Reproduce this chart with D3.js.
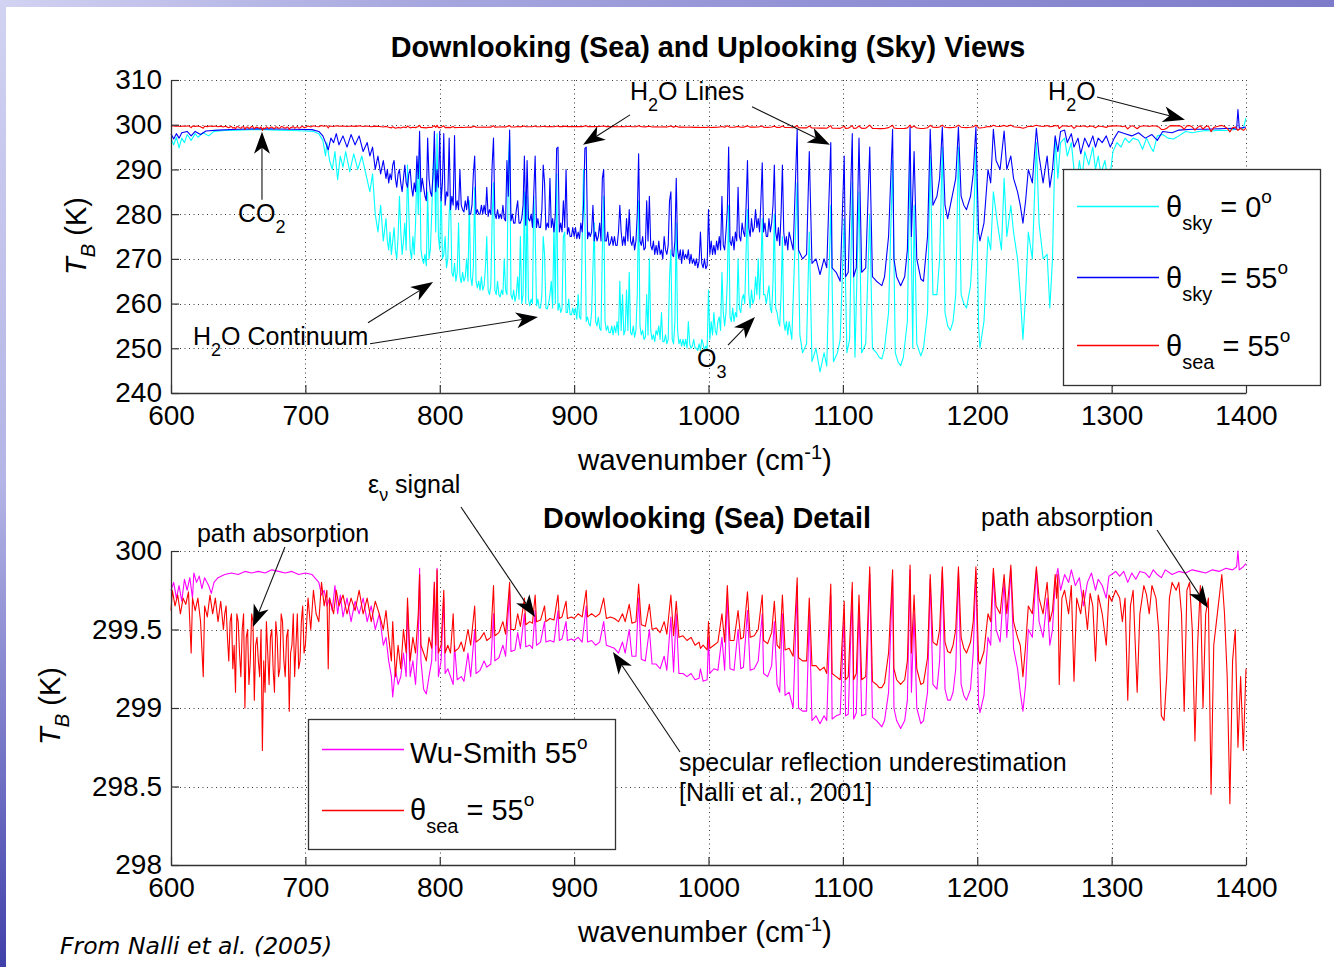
<!DOCTYPE html>
<html><head><meta charset="utf-8">
<script src="https://cdn.jsdelivr.net/npm/d3@7"></script>
<style>
body{margin:0;background:#fff;}
svg{display:block;}
</style>
</head><body>
<svg id="chart" width="1334" height="967"></svg>
<script>
// ---------- tick values ----------
const xTickValues = [600,700,800,900,1000,1100,1200,1300,1400];
const yTopTickValues = [240,250,260,270,280,290,300,310];
const yBotTickValues = [298,298.5,299,299.5,300];

// ---------- series: [wavenumber (cm-1), brightness temperature (K)] ----------
const skyZenith = [
[600,297],[602,295.5],[604,297.2],[606,294.8],[608,297],[610,296],[612,297.8],[615,296.5],[618,298],[620,297.2],[624,298.2],[628,297.5],[632,298.5],[640,298.7],[650,298.8],[660,298.9],[670,298.9],[680,298.8],[690,298.7],[700,298.6],[706,298.5],[710,298],[713,296.5],[715,293],[716,296],[718,292],[720,290],[722,294],[724,287.7],[726,293],[728,290.5],[730,294],[733,289.5],[736,293.5],[739,290],[742,293],[745,289],[748,285],[750,289],[752,280],[754,276],[756,282],[758,274],
[760,279],[761,274],[762,272],[763,276],[764,271],[765,274],[766,277],[767,272],[768,270],[769,275],[770,284],[771,276],[772,271],[773,274],[774,278],[775,272],[776,291],[777,280],[778,272],[779,270],[780,275],[781,271],[782,278],[783,290],[784,280],[785,294],[786,272],[787,270],[788,269],[789,271],[790,268.4],[791,285],[792,270],[793,272],[794,280],[795,289],[796,294],[797,276],[798,298],[799,275],
[800,272],[801,286],[802,270],[803,271],[804,275],[805,268],[806,270],[807,280],[808,284],[809,267],[810,266],[811,269],[812,265],[813,267],[814,278],[815,266],[816,264.7],[817,267],[818,265],[819,266],[820,270],[821,265],[822,283],[823,266],[824,264],[825,268],[826,286],[827,265],[828,263.5],[829,265],[830,263],[831,266],[832,263],[833,264],[834,268],[835,275],[836,263],[837,262],[838,264],[839,279],[840,287],[841,263],[842,262],[843,265],[844,262],[845,261.5],[846,263],[847,262],[848,270],[849,263],[850,262],[851,291],[852,297.4],[853,262],[854,261],[855,263],[856,260.5],[857,262],[858,266],[859,261],[860,275],[861,260],[862,262],[863,285],[864,260],[865,284],[866,261],[867,259.5],[868,261],[869,260],[870,284],[871,276],[872,259.5],[873,261],[874,259],[875,259],[876,262],[877,275],[878,271],[879,259],[880,258.8],[881,260],[882,262],[883,265],[884,259],[885,278],[886,260],[887,289],[888,258.5],[889,260],[890,258],[891,259],[892,275],[893,276],[894,258],[895,258],[896,261],[897,257.5],[898,257.5],[899,259],
[900,257.5],[901,259],[902,256.5],[903,262],[904,257],[905,256.5],[906,274],[907,290],[908,279],[909,256],[910,257],[911,255.5],[912,255],[913,258],[914,268],[915,278],[916,256],[917,255],[918,257],[919,254.5],[920,254],[921,272],[922,284],[923,256],[924,254],[925,255],[926,253.5],[927,253.5],[928,255],[929,253],[930,255],[931,253.5],[932,256],[933,253],[934,265],[935,254],[936,262],[937,253],[938,254],[939,263],[940,254],[941,267],[942,253.5],[943,253],[944,255],[945,252.5],[946,254],[947,262],[948,283],[949,255],[950,253],[951,254],[952,252],[953,252.5],[954,262],[955,253],[956,270],[957,254],[958,252],[959,253],[960,251.5],[961,254],[962,253],[963,255],[964,252],[965,258],[966,251.5],[967,251.5],[968,253],[969,251],[970,252],[971,266],[972,272],[973,252],[974,251],[975,256],[976,278],[977,254],[978,251],[979,252],[980,250.5],[981,252],[982,250.5],[983,252],[984,250],[985,256],[986,251],[987,250],[988,250.5],[989,252],[990,250],[991,250],[992,249.5],[993,251],[994,249.5],[995,252],[996,251],[997,249.5],[998,250.5],[999,250],
[1000,263],[1001,252],[1002,256],[1003,253],[1004,258],[1005,254],[1006,253],[1007,256],[1008,257],[1009,254],[1010,267],[1011,258],[1012,255],[1013,258],[1014,265],[1015,282],[1016,257],[1017,256],[1018,259],[1019,256],[1020,258],[1021,257],[1022,270],[1023,259],[1024,258],[1025,261],[1026,262],[1027,260],[1028,272],[1029,281],[1030,262],[1031,259],[1032,263],[1033,260],[1034,261],[1035,266],[1036,262],[1037,270],[1038,261],[1039,268],[1040,279],[1041,262],[1042,262],[1043,260],[1044,262],[1045,264],[1046,259],[1047,258],[1048,265],[1049,280],[1050,259],[1051,258],[1052,256],[1053,255],[1054,262],[1055,275],[1056,256],[1057,254],[1058,256],[1059,253],[1060,256],
[1062,252],[1066,287],[1068,253],[1070,249],[1073,251],[1075,276],[1077,247],[1080,250],[1083,244.7],[1086,249],[1088,246],[1091,282],[1093,247],[1096,249],[1098,252],[1101,279],[1103,249],[1105,252],[1107,287],[1109,248],[1112,285],[1114,249],[1117,251],[1120,280],[1122,250],[1125,249],[1127,248],[1129,247.6],[1131,250],[1134,258],[1137,292],[1139,249],[1141,247],[1143,246.1],[1145,248],[1148,256],[1150,293],[1152,250],[1153,282],[1155,251],[1158,248.3],[1160,250],[1163,258],[1165,293],[1167,262],[1170,262],[1172,270],[1174,295],[1176,258],[1178,255],[1180,254],[1182,256],[1184,262],[1186,295],[1188,262],[1190,260],[1192,259],[1195,264],[1197,275],[1199,295],[1201,255],[1202,250],[1205,256],[1208,275],[1210,272],[1212,285],[1215,278],[1218,272],[1220,288],[1222,275],[1225,282],[1227,276],[1230,270],[1232,262],[1234,252],[1236,262],[1238,276],[1241,270],[1244,296],[1246,278],[1249,270],[1252,271],[1254,259],[1256,270],[1258,297],[1260,288],[1262,296],[1265,297],[1267,293],[1270,296],[1272,290],[1274,286],[1276,292],[1278,288],[1280,294],[1283,291],[1286,295],[1288,290],[1290,293],[1292,289],[1295,292],[1297,288],[1299,289],[1301,294],[1304,296],[1307,295],[1310,297],[1313,296],[1316,297],[1320,296.5],[1323,294.5],[1326,297],[1329,295],[1331,294],[1334,297.5],[1338,297.8],[1342,297],[1346,296.8],[1350,297.5],[1355,298.5],[1360,298.2],[1365,298.5],[1370,298.7],[1375,298.6],[1380,298.8],[1385,298.7],[1390,298.9],[1395,299],[1398,299.2],[1400,301.5]
];

const sky55 = [
[600,298],[602,296.8],[604,298],[606,297],[608,298.2],[612,298.5],[615,297.5],[618,298.5],[622,297.8],[626,298.6],[635,298.8],[650,299],[670,299.1],[690,299],[705,298.9],[710,298.5],[713,297.5],[715,296],[717,294.4],[719,297],[721,296],[723,298],[725,295.5],[728,297.5],[731,295],[734,297.8],[737,295.5],[740,297.5],[743,294],[746,296],[748,293],[750,295],[752,290],[754,293],[756,289],[758,292],
[760,288],[761,290],[762,287],[763,289],[764,287.7],[765,291],[766,292],[767,288],[768,286],[769,289],[770,290],[771,287],[772,285],[773,288],[774,291],[775,287],[776,286],[777,289],[778,290],[779,286],[780,284],[781,287],[782,285],[783,293],[784,288],[785,298.5],[786,285],[787,288],[788,286],[789,284],[790,283],[791,297],[792,288],[793,285],[794,284],[795,289],[796,298.5],[797,285],[798,290],[799,286],
[800,298.5],[801,283],[802,287],[803,298],[804,282],[805,285],[806,284],[807,297],[808,281],[809,284],[810,282],[811,297.6],[812,281],[813,283],[814,281],[815,290],[816,282],[817,281],[818,280.5],[819,283],[820,281],[821,284],[822,280],[823,280],[824,282],[825,289],[826,293],[827,280],[828,281],[829,280],[830,280],[831,282],[832,280],[833,282],[834,280],[835,286],[836,279.5],[837,281],[838,280],[839,291],[840,297],[841,280],[842,279],[843,281],[844,279],[845,280],[846,279],[847,282],[848,279],[849,278.5],[850,292],[851,284],[852,298.8],[853,278.5],[854,280],[855,278],[856,278],[857,281],[858,283],[859,278],[860,278],[861,279],[862,282],[863,293],[864,277.5],[865,292],[866,279],[867,278.5],[868,280],[869,277],[870,285],[871,293],[872,277],[873,279],[874,277],[875,277],[876,281],[877,291],[878,287],[879,276.5],[880,278],[881,277],[882,288],[883,277],[884,279],[885,276],[886,280],[887,294.7],[888,295],[889,276],[890,278],[891,276],[892,283],[893,277],[894,290],[895,275.5],[896,277],[897,275],[898,275],[899,277],
[900,275],[901,277],[902,274.5],[903,276],[904,274.5],[905,278],[906,276],[907,282],[908,294.7],[909,295],[910,274.5],[911,276],[912,275],[913,276],[914,282],[915,274],[916,276],[917,274],[918,275],[919,278],[920,274],[921,288],[922,290],[923,274],[924,274],[925,276],[926,273],[927,273.5],[928,275],[929,273],[930,275],[931,273],[932,273],[933,276],[934,282],[935,276],[936,273],[937,275],[938,273],[939,279],[940,274],[941,281],[942,274],[943,273],[944,275],[945,272],[946,274],[947,280],[948,293.5],[949,274],[950,273],[951,275],[952,272],[953,272.5],[954,283],[955,274],[956,284],[957,273],[958,272],[959,274],[960,271],[961,273],[962,271],[963,274],[964,271],[965,272],[966,270],[967,275],[968,272],[969,271],[970,273],[971,283],[972,285],[973,271],[974,270.5],[975,274],[976,288],[977,272],[978,270],[979,272],[980,269],[981,272],[982,270],[983,271],[984,270],[985,272],[986,269],[987,271],[988,269],[989,270],[990,268.5],[991,270],[992,268],[993,269.5],[994,276],[995,269],[996,268],[997,270],[998,267.8],[999,268.5],
[1000,281],[1001,271],[1002,274],[1003,271],[1004,273],[1005,271],[1006,274],[1007,272],[1008,275],[1009,272],[1010,284],[1011,273],[1012,272],[1013,276],[1014,281],[1015,295],[1016,274],[1017,273],[1018,275],[1019,272],[1020,276],[1021,274],[1022,286],[1023,275],[1024,274],[1025,278],[1026,276],[1027,275],[1028,282],[1029,292],[1030,277],[1031,275],[1032,279],[1033,276],[1034,277],[1035,281],[1036,277],[1037,279],[1038,276],[1039,283],[1040,291.5],[1041,276],[1042,278],[1043,275],[1044,275],[1045,279],[1046,276],[1047,278],[1048,282],[1049,291],[1050,276],[1051,274],[1052,277],[1053,273],[1054,280],[1055,291],[1056,276],[1057,273],[1058,275],[1059,272],[1060,276],
[1063,272],[1066,299],[1067,272],[1070,270],[1073,271],[1075,294],[1077,269],[1080,270],[1083,266.5],[1086,270],[1088,268],[1091,296],[1092,268],[1095,267],[1098,265],[1101,293],[1102,266],[1104,267],[1107,298],[1108,266],[1110,268],[1112,297],[1114,267],[1117,268],[1120,295],[1122,266],[1125,265],[1127,264.5],[1129,264],[1131,266],[1134,275],[1137,299],[1138,270],[1140,266],[1143,264],[1146,266],[1148,272],[1150,299.5],[1151,275],[1153,294],[1155,270],[1158,265.5],[1160,265],[1163,275],[1165,299],[1167,282],[1170,284],[1172,288],[1174,299.5],[1176,282],[1178,279],[1180,282],[1182,285],[1184,288],[1186,299.5],[1188,284],[1190,282],[1192,281],[1195,284],[1197,289],[1199,299.5],[1201,276],[1202,274],[1205,278],[1208,290],[1210,287],[1212,299],[1214,292],[1217,290],[1220,298.6],[1222,290],[1225,293],[1227,288],[1230,285],[1232,282],[1234,278],[1236,283],[1238,290],[1241,287],[1244,299.2],[1246,293],[1249,287],[1252,293],[1254,286],[1256,290],[1258,297.5],[1260,294],[1262,298.5],[1265,298.8],[1267,296],[1270,298],[1272,295],[1275,297],[1277,293.5],[1280,297],[1283,295],[1286,297.5],[1288,295],[1290,297],[1293,296],[1296,297.5],[1299,295],[1302,297],[1305,298.5],[1310,298],[1315,297.5],[1320,298.2],[1325,297],[1330,297.8],[1334,296.5],[1338,298.5],[1345,298.2],[1350,298.8],[1360,299],[1370,299],[1380,299.1],[1390,299.2],[1393,299],[1394,303.4],[1395,299.2],[1400,299.5]
];

const sea55 = [
[600,299.62],[601,299.75],[603,299.65],[605,299.72],[607,299.6],[609,299.7],[611,299.66],[613,299.74],[615,299.35],[616,299.7],[618,299.62],[620,299.7],[622,299.55],[624,299.2],[625,299.65],[627,299.58],[629,299.72],[631,299.6],[633,299.7],[635,299.55],[637,299.68],[639,299.5],
[640,299.6],[641,299.65],[642,299.45],[643,299.3],[644,299.55],[645,299.6],[646,299.25],[647,299.4],[648,299.1],[649,299.6],[650,299.55],[651,299.35],[652,299.2],[653,299.5],[654,299.6],[655,299.0],[656,299.45],[657,299.5],[658,299.15],[659,299.3],[660,299.6],[661,299.55],[662,299.05],[663,299.4],[664,299.45],[665,299.3],[666,299.2],[667,299.5],[668,298.73],[669,299.3],[670,299.1],[671,299.55],[672,299.35],[673,299.15],[674,299.45],[675,299.5],[676,299.25],[677,299.1],[678,299.55],[679,299.45],[680,299.2],[681,299.25],[682,299.6],[683,299.55],[684,299.3],[685,299.2],[686,299.45],[687,299.5],[688,298.98],[689,299.35],[690,299.4],[691,299.6],[692,299.2],[693,299.4],[694,299.6],[695,299.25],[696,299.3],[697,299.55],[698,299.65],[699,299.35],[700,299.4],
[702,299.7],[704,299.5],[706,299.75],[708,299.6],[710,299.55],[712,299.8],[714,299.65],[716,299.75],[717,299.25],[718,299.7],[721,299.6],[723,299.75],[725,299.65],[728,299.72],[731,299.6],[734,299.7],[737,299.62],[740,299.75],[743,299.6],[746,299.7],[749,299.55],[752,299.68],[755,299.6],[758,299.5],[760,299.62],[762,299.45],[764,299.3],[765,299.55],[767,299.2],[769,299.4],[771,299.25],[773,299.5],[775,299.35],[776,299.7],[778,299.3],[780,299.45],[782,299.35],[784,299.6],[785,299.85],[786,299.4],[788,299.35],[790,299.3],[792,299.45],[794,299.38],[796,299.8],[797,299.4],[798,299.88],[799,299.35],[801,299.4],[803,299.75],[804,299.35],[806,299.4],[808,299.35],[810,299.6],[811,299.36],[814,299.38],[816,299.42],[818,299.36],[821,299.5],[823,299.4],[826,299.65],[827,299.42],[830,299.44],[833,299.48],[835,299.43],[838,299.45],[840,299.78],[841,299.46],[844,299.48],[847,299.55],[849,299.47],[852,299.8],[853,299.5],[856,299.5],[858,299.6],[860,299.52],[863,299.7],[864,299.53],[867,299.55],[869,299.54],[871,299.72],[872,299.55],[875,299.56],[878,299.65],[879,299.55],[882,299.57],[885,299.56],[888,299.72],[889,299.57],[891,299.58],[894,299.68],[895,299.57],[898,299.58],[900,299.57],[903,299.6],[906,299.58],[909,299.75],[910,299.58],[913,299.6],[916,299.58],[919,299.6],[922,299.7],[924,299.57],[927,299.58],[930,299.57],[933,299.55],[936,299.6],[938,299.55],[941,299.66],[943,299.54],[946,299.55],[948,299.79],[950,299.53],[953,299.52],[956,299.66],[958,299.5],[961,299.51],[964,299.48],[967,299.55],[969,299.47],[972,299.72],[974,299.46],[976,299.68],[978,299.45],[981,299.46],[984,299.43],[987,299.45],[990,299.4],[993,299.42],[994,299.38],[996,299.4],[999,299.37],[1000,299.55],[1001,299.38],[1004,299.4],[1007,299.42],[1010,299.6],[1012,299.42],[1014,299.78],[1016,299.43],[1019,299.43],[1022,299.62],[1024,299.44],[1026,299.45],[1029,299.74],[1031,299.45],[1034,299.46],[1037,299.5],[1040,299.72],[1041,299.43],[1044,299.41],[1047,299.48],[1049,299.68],[1051,299.4],[1053,299.38],[1055,299.72],[1057,299.37],[1060,299.38],[1063,299.33],[1066,299.83],[1067,299.32],[1070,299.3],[1073,299.3],[1075,299.7],[1077,299.27],[1080,299.27],[1083,299.24],[1086,299.26],[1088,299.22],[1091,299.79],[1092,299.22],[1095,299.2],[1098,299.18],[1101,299.68],[1102,299.18],[1104,299.2],[1107,299.8],[1108,299.18],[1110,299.22],[1112,299.72],[1114,299.18],[1117,299.2],[1120,299.9],[1122,299.17],[1125,299.15],[1127,299.13],[1129,299.13],[1131,299.16],[1134,299.35],[1137,299.88],[1138,299.25],[1140,299.18],[1143,299.15],[1146,299.18],[1148,299.3],[1150,299.91],[1151,299.35],[1153,299.72],[1155,299.25],[1158,299.15],[1160,299.16],[1163,299.32],[1165,299.85],[1167,299.42],[1170,299.4],[1172,299.5],[1174,299.9],[1176,299.42],[1178,299.36],[1180,299.35],[1182,299.4],[1184,299.5],[1186,299.9],[1188,299.45],[1190,299.38],[1192,299.35],[1195,299.42],[1197,299.55],[1199,299.9],[1201,299.3],[1202,299.28],[1205,299.36],[1208,299.6],[1210,299.55],[1212,299.89],[1214,299.65],[1217,299.6],[1220,299.85],[1222,299.6],[1225,299.91],[1227,299.55],[1230,299.45],[1232,299.4],[1234,299.2],[1236,299.4],[1238,299.65],[1241,299.6],[1244,299.9],[1246,299.7],[1249,299.6],[1252,299.8],[1254,299.55],[1256,299.62],[1258,299.85],[1259,299.7],[1260,299.85],[1261,299.15],[1263,299.7],[1265,299.75],[1268,299.6],[1270,299.78],[1272,299.17],[1274,299.7],[1277,299.6],[1279,299.75],[1282,299.5],[1284,299.73],[1286,299.65],[1288,299.3],[1290,299.72],[1293,299.6],[1296,299.4],[1298,299.72],[1300,299.68],[1303,299.75],[1306,299.7],[1308,299.55],[1310,299.7],[1312,299.05],[1314,299.65],[1316,299.75],[1319,299.1],[1321,299.6],[1324,299.78],[1326,299.72],[1328,299.6],[1330,299.78],[1333,299.7],[1335,299.5],[1337,298.95],[1339,298.92],[1341,299.2],[1343,299.7],[1345,299.8],[1348,299.75],[1350,299.8],[1352,299.6],[1354,298.98],[1356,299.75],[1358,299.8],[1360,299.5],[1362,298.79],[1364,299.4],[1366,299.78],[1368,299.0],[1370,299.6],[1372,299.7],[1374,298.45],[1376,299.4],[1378,299.55],[1380,299.7],[1382,299.85],[1384,299.6],[1386,299.2],[1388,298.39],[1390,299.3],[1392,299.5],[1394,298.75],[1396,299.2],[1398,298.73],[1400,299.25]
];

const wuSmith55 = [
[600,299.75],[602,299.8],[604,299.7],[606,299.78],[608,299.68],[610,299.82],[612,299.75],[614,299.83],[616,299.7],[617,299.86],[619,299.8],[621,299.84],[623,299.76],[625,299.83],[628,299.78],[630,299.73],[632,299.8],[635,299.83],[640,299.85],[645,299.86],[650,299.85],[655,299.87],[660,299.86],[665,299.87],[670,299.86],[675,299.88],[680,299.87],[685,299.86],[690,299.87],[695,299.85],[700,299.86],[705,299.85],[710,299.8],[712,299.72],[714,299.75],[716,299.65],[718,299.7],[720,299.62],[722,299.78],[724,299.6],[726,299.72],[728,299.58],[731,299.7],[734,299.55],[737,299.68],[740,299.6],[743,299.7],[746,299.55],[749,299.65],[752,299.5],[755,299.6],[758,299.4],[760,299.45],[762,299.3],[764,299.2],[765,299.07],[767,299.25],[769,299.15],[771,299.2],[773,299.35],[775,299.2],[776,299.65],[778,299.2],[780,299.3],[782,299.15],[784,299.45],[785,299.89],[786,299.3],[788,299.12],[790,299.09],[792,299.2],[794,299.3],[796,299.8],[797,299.3],[798,299.89],[799,299.2],[801,299.3],[803,299.7],[804,299.22],[806,299.25],[808,299.2],[810,299.15],[811,299.4],[813,299.18],[816,299.2],[818,299.17],[821,299.35],[823,299.2],[826,299.5],[827,299.22],[830,299.24],[833,299.3],[835,299.26],[838,299.28],[840,299.6],[841,299.3],[844,299.32],[847,299.4],[849,299.33],[852,299.75],[853,299.36],[856,299.37],[858,299.48],[860,299.38],[863,299.6],[864,299.39],[867,299.4],[869,299.38],[871,299.62],[872,299.4],[875,299.42],[878,299.55],[879,299.42],[882,299.43],[885,299.42],[888,299.62],[889,299.43],[891,299.44],[894,299.55],[895,299.43],[898,299.44],[900,299.43],[903,299.45],[906,299.42],[909,299.65],[910,299.42],[913,299.43],[916,299.4],[919,299.42],[922,299.55],[924,299.4],[927,299.39],[930,299.38],[933,299.35],[936,299.42],[938,299.35],[941,299.5],[943,299.33],[946,299.33],[948,299.7],[950,299.31],[953,299.3],[956,299.5],[958,299.28],[961,299.28],[964,299.25],[967,299.33],[969,299.24],[972,299.58],[974,299.23],[976,299.6],[978,299.22],[981,299.22],[984,299.2],[987,299.22],[990,299.18],[993,299.19],[994,299.25],[996,299.17],[999,299.18],[1000,299.45],[1001,299.22],[1004,299.25],[1007,299.24],[1010,299.45],[1012,299.24],[1014,299.7],[1016,299.25],[1019,299.24],[1022,299.5],[1024,299.25],[1026,299.26],[1029,299.62],[1031,299.24],[1034,299.25],[1037,299.3],[1040,299.6],[1041,299.22],[1044,299.2],[1047,299.27],[1049,299.55],[1051,299.15],[1053,299.1],[1055,299.6],[1057,299.08],[1060,299.1],[1063,299.0],[1066,299.78],[1067,299.0],[1070,298.98],[1073,298.98],[1075,299.6],[1077,298.92],[1080,298.95],[1083,298.9],[1086,298.95],[1088,298.92],[1091,299.72],[1092,298.93],[1095,298.95],[1098,298.96],[1101,299.6],[1102,298.95],[1104,298.96],[1107,299.75],[1108,298.93],[1110,298.97],[1112,299.65],[1114,298.95],[1117,298.96],[1120,299.85],[1122,298.94],[1125,298.92],[1127,298.9],[1129,298.88],[1131,298.92],[1134,299.1],[1137,299.84],[1138,299.0],[1140,298.92],[1143,298.87],[1146,298.92],[1148,299.05],[1150,299.88],[1151,299.1],[1153,299.6],[1155,299.0],[1158,298.9],[1160,298.92],[1163,299.1],[1165,299.82],[1167,299.15],[1170,299.12],[1172,299.3],[1174,299.87],[1176,299.12],[1178,299.05],[1180,299.05],[1182,299.1],[1184,299.25],[1186,299.87],[1188,299.15],[1190,299.08],[1192,299.05],[1195,299.12],[1197,299.35],[1199,299.87],[1201,299.02],[1202,298.97],[1205,299.08],[1208,299.45],[1210,299.4],[1212,299.86],[1214,299.5],[1217,299.42],[1220,299.8],[1222,299.45],[1225,299.88],[1227,299.38],[1230,299.25],[1232,299.1],[1234,298.98],[1236,299.15],[1238,299.5],[1241,299.45],[1244,299.88],[1246,299.55],[1249,299.45],[1252,299.7],[1254,299.4],[1256,299.5],[1258,299.8],[1260,299.89],[1262,299.75],[1265,299.85],[1268,299.8],[1270,299.88],[1273,299.78],[1276,299.83],[1279,299.65],[1282,299.8],[1285,299.86],[1288,299.75],[1290,299.82],[1293,299.78],[1296,299.7],[1298,299.84],[1300,299.85],[1303,299.87],[1306,299.84],[1309,299.87],[1312,299.8],[1315,299.86],[1318,299.82],[1321,299.87],[1325,299.86],[1328,299.83],[1331,299.88],[1334,299.85],[1337,299.83],[1340,299.88],[1345,299.85],[1350,299.87],[1355,299.86],[1360,299.88],[1365,299.87],[1370,299.86],[1375,299.88],[1380,299.87],[1385,299.89],[1390,299.88],[1393,299.9],[1394,300.0],[1395,299.88],[1398,299.9],[1400,299.92]
];

// ---------- annotations (data coordinates: [wavenumber, K]) ----------
const topArrows = [
  [[667.7,283.2],[667.7,298.4]],
  [[941.6,302.2],[906.6,295.5]],
  [[1032.4,304.0],[1090.4,295.5]],
  [[1289.1,306.2],[1354.6,301.1]],
  [[746.6,255.7],[795.0,264.8]],
  [[748.1,251.0],[873.1,257.0]],
  [[1014.5,250.7],[1034.6,257.0]]
];
const bottomArrows = [
  [[684.8,300.025],[661.0,299.516]],
  [[815.8,300.28],[870.9,299.58]],
  [[1333.8,300.134],[1371.7,299.637]],
  [[978.8,298.72],[928.9,299.357]]
];

// ---------- drawing ----------
const FONT = '"Liberation Sans",Arial,Helvetica,sans-serif';
const svg = d3.select("#chart");
const W = 1334, H = 967;
const defs = svg.append("defs");
const gTop = defs.append("linearGradient").attr("id","gTop").attr("x1",0).attr("x2",1).attr("y1",0).attr("y2",0);
gTop.append("stop").attr("offset","0").attr("stop-color","#d2d2f2");
gTop.append("stop").attr("offset","0.3").attr("stop-color","#a9a9e0");
gTop.append("stop").attr("offset","0.6").attr("stop-color","#9292d6");
gTop.append("stop").attr("offset","1").attr("stop-color","#7c7cca");
const gLeft = defs.append("linearGradient").attr("id","gLeft").attr("x1",0).attr("x2",0).attr("y1",0).attr("y2",1);
gLeft.append("stop").attr("offset","0").attr("stop-color","#d2d2f2");
gLeft.append("stop").attr("offset","0.5").attr("stop-color","#b4b4e6");
gLeft.append("stop").attr("offset","0.8").attr("stop-color","#7070c4");
gLeft.append("stop").attr("offset","1").attr("stop-color","#4040aa");
svg.append("rect").attr("x",0).attr("y",0).attr("width",W).attr("height",H).attr("fill","#fff");
svg.append("rect").attr("x",0).attr("y",0).attr("width",W).attr("height",7).attr("fill","url(#gTop)");
svg.append("rect").attr("x",0).attr("y",0).attr("width",6).attr("height",H).attr("fill","url(#gLeft)");

const x = d3.scaleLinear().domain([600,1400]).range([171,1246]);
const yTop = d3.scaleLinear().domain([240,310]).range([393,80]);
const yBot = d3.scaleLinear().domain([298,300]).range([865,551]);

const AX = "#333";
function rich(g, px, py, parts, size, opts={}) {
  const t = g.append("text").attr("x",px).attr("y",py).style("font-size",size+"px")
    .style("font-family", opts.family || FONT).attr("fill","#000");
  if (opts.anchor) t.attr("text-anchor",opts.anchor);
  if (opts.weight) t.style("font-weight",opts.weight);
  if (opts.style) t.style("font-style",opts.style);
  let shift = 0;
  parts.forEach(p => {
    const s = p.size || (p.sub||p.sup ? size*0.68 : size);
    const off = p.sub ? (p.off||size*0.42) : p.sup ? -(p.off||size*0.45) : 0;
    const ts = t.append("tspan").attr("dy", off - shift).style("font-size", s+"px").text(p.t);
    if (p.style) ts.style("font-style", p.style);
    shift = off;
  });
  return t;
}

function panel(yScale, yTicks) {
  const grid = svg.append("g").attr("stroke","#3a3a3a").attr("stroke-width",1).attr("stroke-dasharray","1,3.5");
  xTickValues.slice(1).forEach(v => grid.append("line")
    .attr("x1",Math.round(x(v))+0.5).attr("x2",Math.round(x(v))+0.5)
    .attr("y1",yScale.range()[1]).attr("y2",yScale.range()[0]));
  yTicks.slice(1).forEach(v => grid.append("line")
    .attr("x1",x.range()[0]).attr("x2",x.range()[1])
    .attr("y1",Math.round(yScale(v))+0.5).attr("y2",Math.round(yScale(v))+0.5));
}

function axes(yScale, yTicks, fmt) {
  const ax = svg.append("g").attr("transform",`translate(0,${yScale.range()[0]})`)
    .call(d3.axisBottom(x).tickValues(xTickValues).tickSize(-8).tickSizeOuter(0).tickPadding(12).tickFormat(d3.format("d")));
  const ay = svg.append("g").attr("transform",`translate(${x.range()[0]},0)`)
    .call(d3.axisLeft(yScale).tickValues(yTicks).tickSize(-8).tickSizeOuter(0).tickPadding(9).tickFormat(fmt));
  [ax,ay].forEach(a => {
    a.select(".domain").attr("stroke",AX).attr("stroke-width",1.3);
    a.selectAll(".tick line").attr("stroke",AX).attr("stroke-width",1.2);
    a.selectAll(".tick text").attr("fill","#000").style("font-size","28px").style("font-family",FONT);
  });
}

function drawLine(data, yScale, color) {
  svg.append("path").datum(data).attr("fill","none").attr("stroke",color).attr("stroke-width",1.1)
    .attr("stroke-linejoin","round")
    .attr("d", d3.line().x(d=>x(d[0])).y(d=>yScale(d[1])));
}

function arrow(g, a, b) {
  const dx=b[0]-a[0], dy=b[1]-a[1], L=Math.hypot(dx,dy), ux=dx/L, uy=dy/L, px=-uy, py=ux;
  const hl=22, hw=8, notch=6;
  const bx=b[0]-ux*hl, by=b[1]-uy*hl;
  const nx=b[0]-ux*(hl-notch), ny=b[1]-uy*(hl-notch);
  g.append("line").attr("x1",a[0]).attr("y1",a[1]).attr("x2",nx).attr("y2",ny)
    .attr("stroke","#111").attr("stroke-width",1.1);
  g.append("path").attr("d",`M${b[0]},${b[1]}L${bx+px*hw},${by+py*hw}L${nx},${ny}L${bx-px*hw},${by-py*hw}Z`)
    .attr("fill","#000");
}

// ===== top panel =====
panel(yTop, yTopTickValues);
drawLine(skyZenith, yTop, "#00ffff");
drawLine(sky55, yTop, "#0000ff");
drawLine(sea55, yTop, "#ff0000");
axes(yTop, yTopTickValues, d3.format("d"));

// ===== bottom panel =====
panel(yBot, yBotTickValues);
drawLine(wuSmith55, yBot, "#ff00ff");
drawLine(sea55, yBot, "#ff0000");
axes(yBot, yBotTickValues, d => String(d));

const T = svg.append("g");
rich(T, 708, 57, [{t:"Downlooking (Sea) and Uplooking (Sky) Views"}], 28.8, {anchor:"middle", weight:"bold"});
rich(T, 707, 528, [{t:"Dowlooking (Sea) Detail"}], 28.8, {anchor:"middle", weight:"bold"});

[470, 942].forEach(by => rich(T, 705, by, [{t:"wavenumber (cm"},{t:"-1",sup:true,off:11,size:20},{t:")"}], 29.5, {anchor:"middle"}));
[[86,236],[60,706]].forEach(([lx,ly]) => {
  const g = T.append("g").attr("transform",`translate(${lx},${ly}) rotate(-90)`);
  rich(g, 0, 0, [{t:"T",style:"italic"},{t:"B",sub:true,style:"italic",off:9,size:20},{t:" (K)"}], 29, {anchor:"middle"});
});

// ---- legends ----
function legendBox(bx, by, bw, bh) {
  svg.append("rect").attr("x",bx).attr("y",by).attr("width",bw).attr("height",bh)
    .attr("fill","#fff").attr("stroke",AX).attr("stroke-width",1.3);
  return svg.append("g");
}
const L1 = legendBox(1063.5, 169.5, 257, 216);
[[206.5,"#00ffff","sky","0"],[277.5,"#0000ff","sky","55"],[345.5,"#ff0000","sea","55"]].forEach(([ly,c,s,v]) => {
  L1.append("line").attr("x1",1077).attr("x2",1159).attr("y1",ly).attr("y2",ly).attr("stroke",c).attr("stroke-width",1.3);
  rich(L1, 1166, ly+10, [{t:"θ"},{t:s,sub:true,off:13,size:20},{t:" = "+v},{t:"o",sup:true,off:14,size:19}], 29);
});
const L2 = legendBox(308.5, 719.5, 307, 130);
L2.append("line").attr("x1",322).attr("x2",404).attr("y1",749.5).attr("y2",749.5).attr("stroke","#ff00ff").attr("stroke-width",1.3);
rich(L2, 410, 763, [{t:"Wu-Smith 55"},{t:"o",sup:true,off:14,size:19}], 29);
L2.append("line").attr("x1",322).attr("x2",404).attr("y1",810.5).attr("y2",810.5).attr("stroke","#ff0000").attr("stroke-width",1.3);
rich(L2, 410, 820, [{t:"θ"},{t:"sea",sub:true,off:13,size:20},{t:" = 55"},{t:"o",sup:true,off:14,size:19}], 29);

// ---- annotations ----
const A = svg.append("g");
topArrows.forEach(([a,b]) => arrow(A, [x(a[0]),yTop(a[1])], [x(b[0]),yTop(b[1])]));
bottomArrows.forEach(([a,b]) => arrow(A, [x(a[0]),yBot(a[1])], [x(b[0]),yBot(b[1])]));

const fs = 25;
rich(A, x(649.9), yTop(278.2), [{t:"CO"},{t:"2",sub:true,off:11,size:18}], fs);
rich(A, x(941.6), yTop(305.5), [{t:"H"},{t:"2",sub:true,off:11,size:18},{t:"O Lines"}], fs);
rich(A, x(1252.7), yTop(305.5), [{t:"H"},{t:"2",sub:true,off:11,size:18},{t:"O"}], fs);
rich(A, x(616.4), yTop(250.7), [{t:"H"},{t:"2",sub:true,off:11,size:18},{t:"O Continuum"}], fs);
rich(A, x(991.4), yTop(245.8), [{t:"O"},{t:"3",sub:true,off:11,size:18}], fs);

rich(A, x(619.3), yBot(300.057), [{t:"path absorption"}], fs);
rich(A, x(746.6), yBot(300.369), [{t:"ε"},{t:"ν",sub:true,off:8,size:18},{t:" signal"}], fs);
rich(A, x(1202.8), yBot(300.159), [{t:"path absorption"}], fs);
rich(A, x(978.0), yBot(298.6), [{t:"specular reflection underestimation"}], fs);
rich(A, x(978.0), yBot(298.41), [{t:"[Nalli et al., 2001]"}], fs);

rich(svg, 60, 954, [{t:"From Nalli et al. (2005)"}], 23.5, {style:"italic", family:'"DejaVu Sans",Verdana,sans-serif'});
</script>
</body></html>
